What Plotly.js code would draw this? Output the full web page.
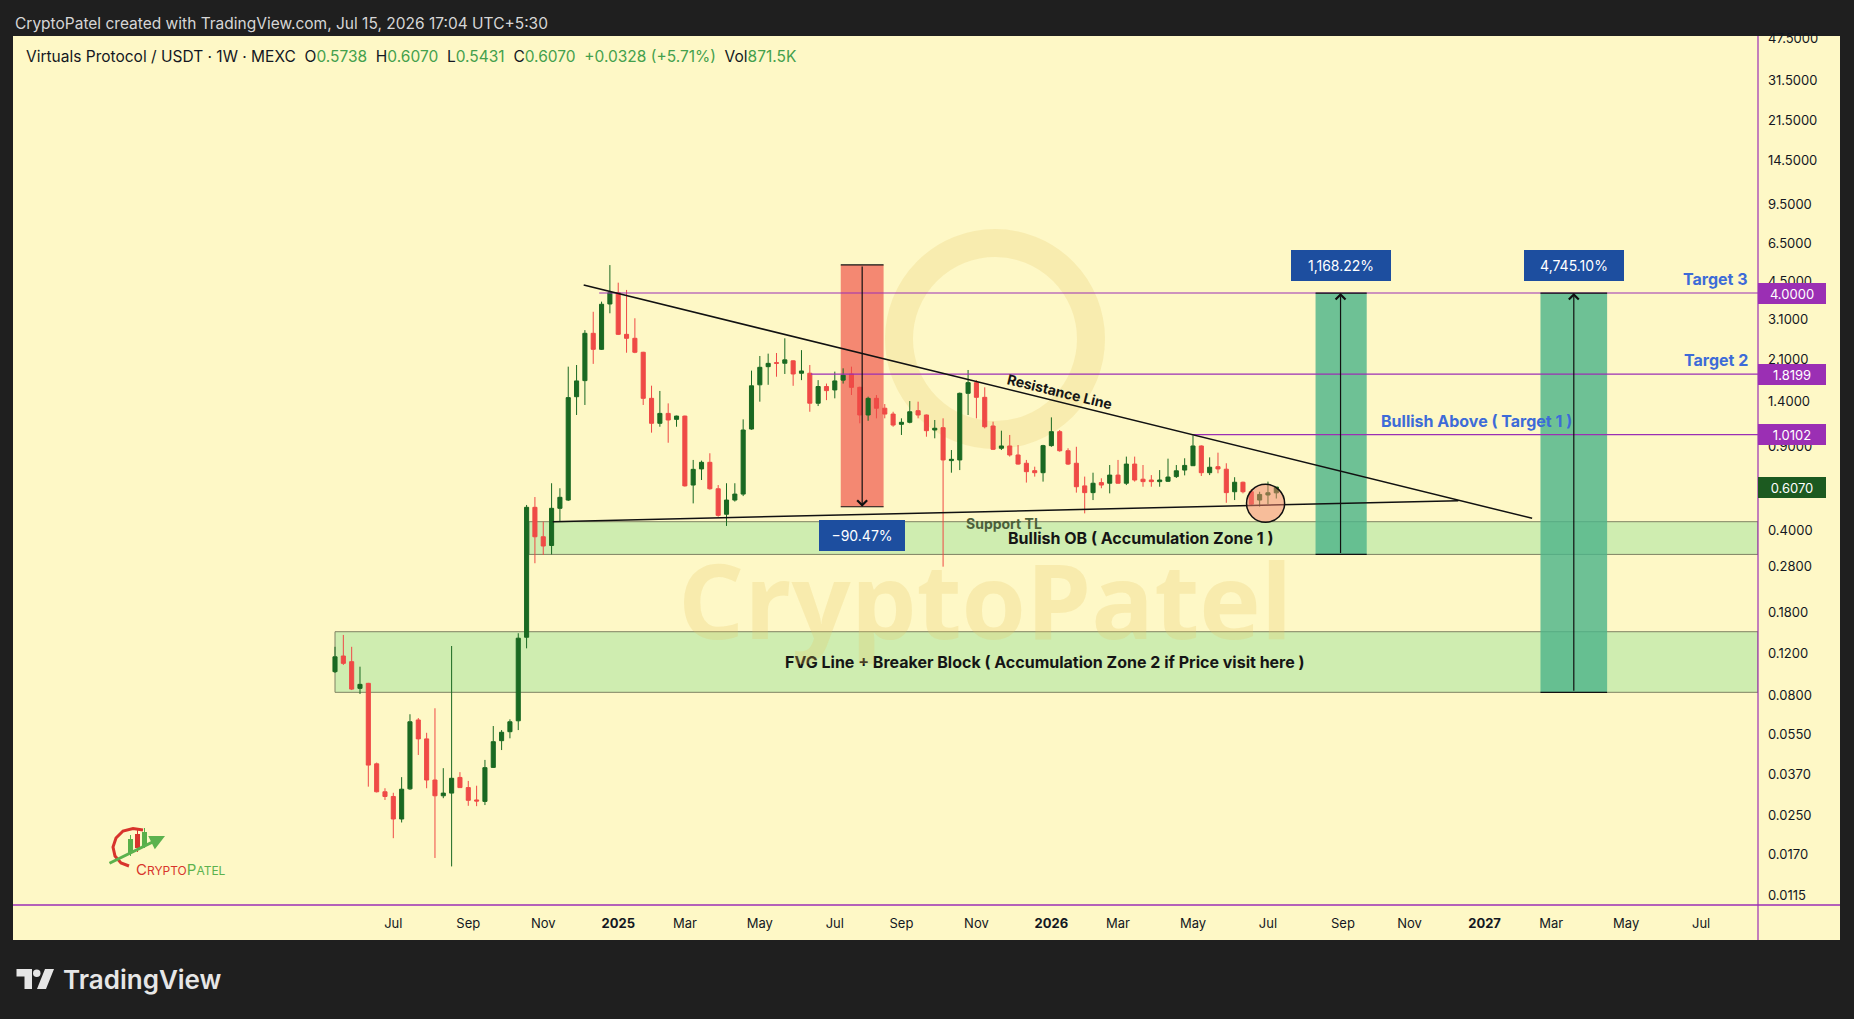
<!DOCTYPE html>
<html>
<head>
<meta charset="utf-8">
<script src="https://cdn.plot.ly/plotly-3.0.1.min.js"></script>
<style>
html,body{margin:0;padding:0;background:#1f1f1f;overflow:hidden;}
#chart{width:1854px;height:1019px;}
</style>
</head>
<body>
<div id="chart"></div>
<script>
// ================= DATA =================
const firstWeek = '2024-05-13';   // Monday of the first weekly candle

const open = [
  0.1009,0.1175,0.1112,0.0858,0.0901,0.0412,0.0314,0.0300,0.0241,0.0323,
  0.0631,0.0525,0.0352,0.0302,0.0310,0.0361,0.0327,0.0290,0.0286,0.0398,
  0.0516,0.0563,0.0626,0.1410,0.4985,0.3745,0.3440,0.4937,0.5350,1.461,
  1.708,2.705,2.315,3.598,4.016,2.678,2.577,2.250,1.438,1.128,
  1.242,1.172,1.210,0.619,0.724,0.772,0.597,0.466,0.535,0.567,
  1.067,1.640,1.956,2.034,2.022,2.070,1.835,1.835,1.371,1.613,
  1.560,1.716,1.822,1.600,1.223,1.438,1.306,1.234,1.117,1.139,
  1.275,1.223,1.057,1.081,0.785,0.790,1.510,1.675,1.452,1.099,
  0.885,0.905,0.829,0.765,0.712,0.698,0.908,1.040,0.864,0.765,
  0.614,0.575,0.634,0.630,0.682,0.630,0.759,0.655,0.650,0.640,
  0.642,0.672,0.716,0.747,0.905,0.698,0.740,0.722,0.580,0.636,
  0.580,0.535,0.562,0.5738
];
const high = [
  0.1285,0.1442,0.1285,0.1059,0.0905,0.0417,0.0325,0.0311,0.0362,0.0667,
  0.0643,0.0557,0.0707,0.0395,0.1295,0.0380,0.0349,0.0333,0.0428,0.0595,
  0.0572,0.0635,0.1466,0.5100,0.5510,0.4338,0.6300,0.6000,1.956,1.988,
  2.790,3.335,3.680,5.250,4.425,4.123,3.131,2.260,1.626,1.545,
  1.369,1.215,1.215,0.790,0.785,0.843,0.619,0.630,0.630,1.172,
  1.882,2.170,2.220,2.234,2.577,2.080,2.297,1.988,1.716,1.660,
  1.864,1.925,1.956,1.610,1.461,1.485,1.360,1.262,1.184,1.400,
  1.392,1.228,1.165,1.184,0.870,1.520,1.894,1.716,1.600,1.146,
  1.050,1.007,0.913,0.790,0.740,0.915,1.195,1.057,0.885,0.898,
  0.672,0.698,0.661,0.752,0.790,0.816,0.816,0.752,0.682,0.716,
  0.800,0.752,0.803,1.002,0.910,0.810,0.848,0.765,0.668,0.640,
  0.594,0.580,0.640,0.6070
];
const low = [
  0.0996,0.1077,0.0844,0.0812,0.0330,0.0312,0.0290,0.0200,0.0233,0.0320,
  0.0449,0.0325,0.0165,0.0295,0.0152,0.0326,0.0274,0.0273,0.0276,0.0396,
  0.0471,0.0528,0.0572,0.1266,0.2895,0.3138,0.3153,0.4366,0.5300,1.223,
  1.348,2.010,2.300,3.287,2.660,2.240,2.230,1.348,1.030,1.091,
  0.934,1.091,0.610,0.518,0.650,0.592,0.455,0.416,0.527,0.556,
  1.060,1.392,1.640,1.774,1.822,1.624,1.716,1.262,1.334,1.413,
  1.438,1.660,1.485,1.128,1.156,1.184,1.184,1.091,1.007,1.128,
  1.184,0.990,0.975,0.280,0.698,0.716,1.223,1.184,1.074,0.870,
  0.870,0.816,0.755,0.634,0.672,0.640,0.898,0.856,0.752,0.575,
  0.470,0.535,0.600,0.571,0.628,0.619,0.640,0.609,0.609,0.609,
  0.638,0.663,0.680,0.745,0.676,0.682,0.694,0.521,0.535,0.571,
  0.510,0.502,0.514,0.5431
];
const close = [
  0.1166,0.1094,0.0852,0.0892,0.0407,0.0314,0.0300,0.0241,0.0322,0.0620,
  0.0525,0.0352,0.0302,0.0310,0.0358,0.0327,0.0289,0.0287,0.0397,0.0511,
  0.0560,0.0620,0.1397,0.4985,0.3745,0.3423,0.4937,0.5494,1.448,1.703,
  2.705,2.315,3.587,4.016,2.678,2.577,2.250,1.438,1.128,1.242,
  1.165,1.210,0.614,0.721,0.772,0.597,0.461,0.535,0.567,1.057,
  1.624,1.944,2.020,2.022,2.090,1.822,1.876,1.371,1.613,1.550,
  1.703,1.800,1.600,1.223,1.438,1.306,1.234,1.109,1.139,1.262,
  1.223,1.050,1.075,0.790,0.795,1.510,1.675,1.452,1.091,0.876,
  0.905,0.829,0.759,0.705,0.698,0.908,1.040,0.864,0.759,0.609,
  0.575,0.630,0.619,0.682,0.630,0.759,0.650,0.640,0.640,0.650,
  0.669,0.711,0.749,0.905,0.698,0.736,0.724,0.575,0.636,0.580,
  0.514,0.565,0.5742,0.6070
];
const lastVolume = '871.5K';

// axis ticks
const priceTicks = [47.5,31.5,21.5,14.5,9.5,6.5,4.5,3.1,2.1,1.4,0.9,0.6,0.4,0.28,0.18,0.12,0.08,0.055,0.037,0.025,0.017,0.0115];
const monthTicks = ['2024-07-01','2024-09-02','2024-11-04','2025-01-06','2025-03-03','2025-05-05','2025-07-07','2025-09-01','2025-11-03','2026-01-05','2026-03-02','2026-05-04','2026-07-06','2026-09-07','2026-11-02','2027-01-04','2027-03-01','2027-05-03','2027-07-05'];
const monthLabels = ['Jul','Sep','Nov','2025','Mar','May','Jul','Sep','Nov','2026','Mar','May','Jul','Sep','Nov','2027','Mar','May','Jul'];

// horizontal target levels
const targetLevels = [4.0, 1.8199, 1.0102];
const targetStart  = ['2024-12-21', '2025-06-17', '2026-05-03'];
const targetNames  = ['Target 3', 'Target 2', 'Bullish Above ( Target 1 )'];

// trend lines
const resistanceX = ['2024-12-08', '2027-02-13'];
const resistanceY = [4.326, 0.448];
const supportX = ['2024-11-12', '2026-12-13'];
const supportY = [0.4335, 0.5317];

// accumulation zones
const zoneNames  = ['Bullish OB ( Accumulation Zone 1 )', 'FVG Line + Breaker Block ( Accumulation Zone 2 if Price visit here )'];
const zoneStart  = ['2024-10-23', '2024-05-13'];
const zoneTop    = [0.4335, 0.1488];
const zoneBottom = [0.3154, 0.08256];

// price-range measurements
const rangeStart = ['2025-07-12', '2026-08-15', '2027-02-20'];
const rangeEnd   = ['2025-08-17', '2026-09-27', '2027-04-17'];
const rangeMid   = ['2025-07-30', '2026-09-05', '2027-03-20'];
const rangeFrom  = [5.26, 0.3154, 0.08256];
const rangeTo    = [0.5013, 4.0, 4.0];
const rangeLabel = ['\u221290.47%', '1,168.22%', '4,745.10%'];

// highlighted current candles (circle bounds)
const markerX = ['2026-06-18', '2026-07-20'];
const markerY = [0.4309, 0.6236];

// visible window
const xRange = ['2023-08-16 10:00', '2027-08-21 19:00'];
const yRangeLog = [-1.981, 1.6872];

// ================= BUILD =================
const W = 1854, H = 1019;
const M = {l: 13, r: 96, t: 36, b: 114};
const PW = W - M.l - M.r, PH = H - M.t - M.b;
const px = X => (X - M.l) / PW;          // page pixel -> paper x
const py = Y => (H - M.b - Y) / PH;      // page pixel -> paper y
const L10 = v => Math.log10(v);

const CREAM = '#fef8c6';
const PURPLE = '#9b2fb4';
const FONT = 'Inter, "Noto Sans", Roboto, sans-serif';
const BLUE_TXT = '#3d6bd8';
const LABEL_BG = '#1d4e9f';

const weeks = close.map((_, i) =>
  new Date(Date.parse(firstWeek + 'T00:00:00Z') + i * 7 * 864e5).toISOString().slice(0, 10));

const traces = [];

traces.push({
  type: 'candlestick', x: weeks, open: open, high: high, low: low, close: close,
  increasing: {line: {color: '#1a6922', width: 1}, fillcolor: '#1a6922'},
  decreasing: {line: {color: '#ef4a46', width: 1}, fillcolor: '#ef4a46'},
  whiskerwidth: 0, hoverinfo: 'skip', showlegend: false
});

// target lines
targetLevels.forEach((lv, i) => {
  traces.push({type: 'scatter', mode: 'lines', x: [targetStart[i], xRange[1]], y: [lv, lv],
    line: {color: PURPLE, width: 1.1}, hoverinfo: 'skip', showlegend: false});
});
// trend lines
traces.push({type: 'scatter', mode: 'lines', x: resistanceX, y: resistanceY,
  line: {color: '#111111', width: 1.5}, hoverinfo: 'skip', showlegend: false});
traces.push({type: 'scatter', mode: 'lines', x: supportX, y: supportY,
  line: {color: '#111111', width: 1.5}, hoverinfo: 'skip', showlegend: false});

const shapes = [];
// cream panel (chart + axes)
shapes.push({type: 'rect', xref: 'paper', yref: 'paper', x0: px(13), x1: px(1840), y0: py(940), y1: py(36),
  fillcolor: CREAM, line: {width: 0}, layer: 'below'});
// faint logo ring watermark
shapes.push({type: 'circle', xref: 'paper', yref: 'paper', x0: px(995 - 96), x1: px(995 + 96), y0: py(339 + 96), y1: py(339 - 96),
  line: {color: 'rgba(228,196,96,0.22)', width: 28}, fillcolor: 'rgba(0,0,0,0)', layer: 'below'});

// zones
zoneNames.forEach((n, i) => {
  shapes.push({type: 'rect', xref: 'x', yref: 'y', x0: zoneStart[i], x1: xRange[1], y0: zoneBottom[i], y1: zoneTop[i],
    fillcolor: '#cfedb0', line: {color: '#7f8263', width: 1}, layer: 'below'});
});
// range rectangles
rangeFrom.forEach((f, i) => {
  const down = rangeTo[i] < f;
  shapes.push({type: 'rect', xref: 'x', yref: 'y', x0: rangeStart[i], x1: rangeEnd[i],
    y0: Math.min(f, rangeTo[i]), y1: Math.max(f, rangeTo[i]),
    fillcolor: down ? 'rgba(240,88,78,0.70)' : 'rgba(78,180,138,0.82)', line: {width: 0}, layer: 'below'});
  [f, rangeTo[i]].forEach(v => shapes.push({type: 'line', xref: 'x', yref: 'y', x0: rangeStart[i], x1: rangeEnd[i], y0: v, y1: v,
    line: {color: '#111111', width: 1.2}, layer: 'above'}));
});
// circle around current candles
shapes.push({type: 'circle', xref: 'x', yref: 'y', x0: markerX[0], x1: markerX[1], y0: markerY[0], y1: markerY[1],
  fillcolor: 'rgba(240,130,110,0.50)', line: {color: '#111111', width: 1.5}, layer: 'above'});
// frame lines
shapes.push({type: 'line', xref: 'paper', yref: 'paper', x0: px(1758), x1: px(1758), y0: py(940), y1: py(36),
  line: {color: PURPLE, width: 1.2}, layer: 'above'});
shapes.push({type: 'line', xref: 'paper', yref: 'paper', x0: px(13), x1: px(1840), y0: py(905), y1: py(905),
  line: {color: PURPLE, width: 1.5}, layer: 'above'});

// small CryptoPatel logo (bottom-left)
const pathOf = pts => pts.map((p, i) => (i ? 'L' : 'M') + px(p[0]).toFixed(5) + ',' + py(p[1]).toFixed(5)).join(' ');
shapes.push({type: 'path', xref: 'paper', yref: 'paper',
  path: pathOf([[143,830],[133,828.5],[123,831],[116,838],[113,847],[115,856],[121,863],[129,866]]),
  line: {color: '#d8342c', width: 3}, layer: 'above'});
shapes.push({type: 'line', xref: 'paper', yref: 'paper', x0: px(130.5), x1: px(130.5), y0: py(856), y1: py(835), line: {color: '#58b04a', width: 1}});
shapes.push({type: 'rect', xref: 'paper', yref: 'paper', x0: px(128), x1: px(133), y0: py(853), y1: py(839), fillcolor: '#58b04a', line: {width: 0}});
shapes.push({type: 'line', xref: 'paper', yref: 'paper', x0: px(137.5), x1: px(137.5), y0: py(852), y1: py(830), line: {color: '#d8342c', width: 1}});
shapes.push({type: 'rect', xref: 'paper', yref: 'paper', x0: px(135), x1: px(140), y0: py(848), y1: py(834), fillcolor: '#d8342c', line: {width: 0}});
shapes.push({type: 'line', xref: 'paper', yref: 'paper', x0: px(144.5), x1: px(144.5), y0: py(848), y1: py(828), line: {color: '#58b04a', width: 1}});
shapes.push({type: 'rect', xref: 'paper', yref: 'paper', x0: px(142), x1: px(147), y0: py(846), y1: py(832), fillcolor: '#58b04a', line: {width: 0}});

// TradingView footer logo
const polyOf = pts => pathOf(pts) + ' Z';
shapes.push({type: 'path', xref: 'paper', yref: 'paper', path: polyOf([[16.5,969],[32,969],[32,989],[24.5,989],[24.5,976.5],[16.5,976.5]]),
  fillcolor: '#e6e6e6', line: {width: 0}});
shapes.push({type: 'circle', xref: 'paper', yref: 'paper', x0: px(33), x1: px(40.5), y0: py(977), y1: py(969.5),
  fillcolor: '#e6e6e6', line: {width: 0}});
shapes.push({type: 'path', xref: 'paper', yref: 'paper', path: polyOf([[45,969],[54,969],[46,989],[37,989]]),
  fillcolor: '#e6e6e6', line: {width: 0}});

const annotations = [];
// range arrows and labels
rangeFrom.forEach((f, i) => {
  const down = rangeTo[i] < f;
  annotations.push({xref: 'x', yref: 'y', axref: 'x', ayref: 'y', x: rangeMid[i], y: L10(rangeTo[i]),
    ax: rangeMid[i], ay: L10(f), text: '', showarrow: true, arrowhead: 4, arrowsize: 1.6, arrowwidth: 1.2,
    arrowcolor: '#111111', standoff: 0, startstandoff: 0});
  annotations.push({xref: 'x', yref: 'y', x: rangeMid[i], y: L10(rangeTo[i]), yanchor: down ? 'top' : 'bottom',
    yshift: down ? -13 : 12, text: rangeLabel[i], showarrow: false,
    font: {family: FONT, size: 14, color: '#ffffff'}, bgcolor: LABEL_BG, bordercolor: LABEL_BG,
    borderpad: 6, width: down ? 72 : 86, height: 17});
});
// target names and price tags
targetLevels.forEach((lv, i) => {
  const isT1 = i === 2;
  annotations.push({xref: 'paper', yref: 'y', x: isT1 ? px(1476) : px(1750), xanchor: isT1 ? 'center' : 'right',
    y: L10(lv), yanchor: 'bottom', yshift: 2, text: '<b>' + targetNames[i] + '</b>', showarrow: false,
    font: {family: FONT, size: 16, color: BLUE_TXT}});
  annotations.push({xref: 'paper', yref: 'y', x: 1, xanchor: 'left', y: L10(lv), yanchor: 'middle',
    text: lv.toFixed(4), showarrow: false, font: {family: FONT, size: 13, color: '#ffffff'},
    bgcolor: PURPLE, bordercolor: PURPLE, borderpad: 2, width: 62, height: 15});
});
// last price tag
annotations.push({xref: 'paper', yref: 'y', x: 1, xanchor: 'left', y: L10(close[close.length - 1]), yanchor: 'middle',
  text: close[close.length - 1].toFixed(4), showarrow: false, font: {family: FONT, size: 13, color: '#ffffff'},
  bgcolor: '#1c5a20', bordercolor: '#1c5a20', borderpad: 2, width: 62, height: 15});
// zone names
const zoneTextX = [px(1141), px(1045)];
zoneNames.forEach((n, i) => {
  annotations.push({xref: 'paper', yref: 'y', x: zoneTextX[i], y: (L10(zoneTop[i]) + L10(zoneBottom[i])) / 2,
    text: '<b>' + n + '</b>', showarrow: false, font: {family: FONT, size: 16, color: '#151515'}});
});
// line labels
annotations.push({xref: 'paper', yref: 'paper', x: px(1060), y: py(391), text: '<b>Resistance Line</b>', textangle: 13.8,
  showarrow: false, font: {family: FONT, size: 14, color: '#151515'}});
annotations.push({xref: 'paper', yref: 'paper', x: px(1004), y: py(523), text: '<b>Support TL</b>',
  showarrow: false, font: {family: FONT, size: 14, color: '#4c5f3a'}});
// big watermark
annotations.push({xref: 'paper', yref: 'paper', x: px(985), y: py(598), text: '<b>CryptoPatel</b>', showarrow: false,
  font: {family: '"Open Sans", ' + FONT, size: 104, color: 'rgba(228,196,96,0.24)'}});
// header line
annotations.push({xref: 'paper', yref: 'paper', x: px(13), xanchor: 'left', y: py(23), yanchor: 'middle',
  text: 'CryptoPatel created with TradingView.com, Jul 15, 2026 17:04 UTC+5:30', showarrow: false,
  font: {family: FONT, size: 15.5, color: '#d6d6d6'}});
// legend line
const n = close.length - 1;
const chg = close[n] - close[n - 1];
const pct = chg / close[n - 1] * 100;
const G = s => '<span style="color:#44a04c">' + s + '</span>';
const sp = '\u00a0\u00a0';
const legendText = 'Virtuals Protocol / USDT \u00b7 1W \u00b7 MEXC' + sp +
  'O' + G(open[n].toFixed(4)) + sp + 'H' + G(high[n].toFixed(4)) + sp + 'L' + G(low[n].toFixed(4)) + sp +
  'C' + G(close[n].toFixed(4)) + sp + G((chg >= 0 ? '+' : '') + chg.toFixed(4) + ' (' + (pct >= 0 ? '+' : '') + pct.toFixed(2) + '%)') + sp +
  'Vol' + G(lastVolume);
annotations.push({xref: 'paper', yref: 'paper', x: px(24), xanchor: 'left', y: py(57), yanchor: 'middle',
  text: legendText, showarrow: false, font: {family: FONT, size: 15.5, color: '#131722'}});
// small logo text + swoosh
annotations.push({xref: 'paper', yref: 'paper', x: px(165), y: py(836), ax: -57, ay: 28, text: '', showarrow: true,
  arrowhead: 2, arrowsize: 1, arrowwidth: 3, arrowcolor: '#5cb24e'});
annotations.push({xref: 'paper', yref: 'paper', x: px(134), y: py(881), showarrow: false,
  text: '<span style="color:#d8342c">C<span style="font-size:12px">RYPTO</span></span><span style="color:#5cb24e">P<span style="font-size:12px">ATEL</span></span>',
  font: {family: FONT, size: 15}});
// TradingView footer
annotations.push({xref: 'paper', yref: 'paper', x: px(61), xanchor: 'left', y: py(979), yanchor: 'middle',
  text: 'TradingView', showarrow: false, font: {family: FONT, size: 26, color: '#e6e6e6', weight: 600}});

const layout = {
  width: W, height: H,
  margin: M,
  paper_bgcolor: '#1f1f1f', plot_bgcolor: CREAM,
  showlegend: false,
  dragmode: false,
  boxgap: 0.3,
  xaxis: {
    type: 'date', range: xRange, rangeslider: {visible: false},
    tickvals: monthTicks, ticktext: monthLabels.map(s => /^\d{4}$/.test(s) ? '<b>' + s + '</b>' : s),
    tickfont: {family: FONT, size: 13, color: '#131722'}, ticks: '', ticklabelstandoff: 9,
    showgrid: false, zeroline: false, showline: false, automargin: false, fixedrange: true
  },
  yaxis: {
    type: 'log', range: yRangeLog, side: 'right',
    tickvals: priceTicks, ticktext: priceTicks.map(v => v.toFixed(4)),
    tickfont: {family: FONT, size: 13, color: '#131722'}, ticks: '', ticklabelstandoff: 9,
    showgrid: false, zeroline: false, showline: false, automargin: false, fixedrange: true
  },
  shapes: shapes,
  annotations: annotations
};

Plotly.newPlot('chart', traces, layout, {displayModeBar: false, staticPlot: true});
</script>
</body>
</html>
